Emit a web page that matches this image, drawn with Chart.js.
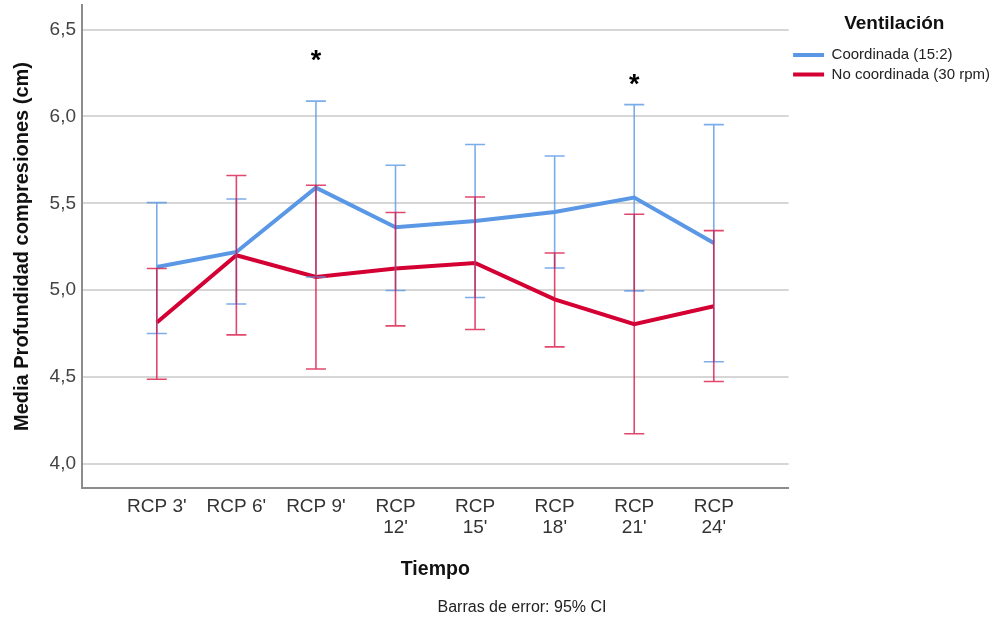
<!DOCTYPE html>
<html>
<head>
<meta charset="utf-8">
<title>Media Profundidad compresiones</title>
<script src="https://cdn.jsdelivr.net/npm/chart.js@4/dist/chart.umd.min.js"></script>
<style>
  html, body { margin: 0; padding: 0; background: #ffffff; }
  #wrap { position: relative; width: 1000px; height: 620px; }
</style>
</head>
<body>
<div id="wrap"><canvas id="chart"></canvas></div>
<script>
// Time points (minutes of CPR)
const categories = ["RCP 3'", "RCP 6'", "RCP 9'", "RCP 12'", "RCP 15'", "RCP 18'", "RCP 21'", "RCP 24'"];
const tickLabels = [["RCP 3'"], ["RCP 6'"], ["RCP 9'"], ["RCP", "12'"], ["RCP", "15'"], ["RCP", "18'"], ["RCP", "21'"], ["RCP", "24'"]];

// Coordinada (15:2): mean and 95% CI
const coordMean  = [5.134, 5.220, 5.590, 5.362, 5.398, 5.450, 5.533, 5.272];
const coordUpper = [5.504, 5.525, 6.088, 5.719, 5.838, 5.772, 6.068, 5.953];
const coordLower = [4.751, 4.921, 5.076, 4.998, 4.958, 5.128, 4.996, 4.588];

// No coordinada (30 rpm): mean and 95% CI
const noCoordMean  = [4.814, 5.201, 5.076, 5.125, 5.157, 4.947, 4.805, 4.908];
const noCoordUpper = [5.125, 5.660, 5.604, 5.447, 5.536, 5.214, 5.437, 5.343];
const noCoordLower = [4.488, 4.743, 4.547, 4.795, 4.774, 4.674, 4.174, 4.475];

// Y-axis ticks
const yTicks = [4.0, 4.5, 5.0, 5.5, 6.0, 6.5];

// Significance marks: time point index and height on the value axis
const sigIndex = [2, 6];
const sigValue = [6.35, 6.21];

const seriesNames = ["Coordinada (15:2)", "No coordinada (30 rpm)"];
const legendTitle = "Ventilación";
const yTitle = "Media Profundidad compresiones (cm)";
const xTitle = "Tiempo";
const footnote = "Barras de error: 95% CI";

const BLUE = "rgb(90,152,230)";
const RED = "rgb(212,0,52)";
const BLUE_BAR = "rgba(90,152,230,0.8)";
const RED_BAR = "rgba(216,10,60,0.75)";

const toPoints = (vals) => vals.map((v, i) => ({ x: i, y: v }));

Chart.defaults.font.family = "'Liberation Sans', Arial, Helvetica, sans-serif";
Chart.defaults.color = "#222";

// Error bars (95% CI) with caps, drawn on top of the lines
const errorBars = {
  id: 'errorBars',
  afterDatasetsDraw(chart) {
    const { ctx, scales: { x, y } } = chart;
    const sets = [
      { lo: coordLower, hi: coordUpper, color: BLUE_BAR },
      { lo: noCoordLower, hi: noCoordUpper, color: RED_BAR }
    ];
    ctx.save();
    ctx.lineWidth = 1.6;
    sets.forEach(s => {
      ctx.strokeStyle = s.color;
      s.lo.forEach((lo, i) => {
        const px = x.getPixelForValue(i);
        const pLo = y.getPixelForValue(lo);
        const pHi = y.getPixelForValue(s.hi[i]);
        ctx.beginPath();
        ctx.moveTo(px, pLo); ctx.lineTo(px, pHi);
        ctx.moveTo(px - 10, pLo); ctx.lineTo(px + 10, pLo);
        ctx.moveTo(px - 10, pHi); ctx.lineTo(px + 10, pHi);
        ctx.stroke();
      });
    });
    ctx.restore();
  }
};

// Significance asterisks and the error-bar note
const notes = {
  id: 'notes',
  afterDraw(chart) {
    const { ctx, scales: { x, y } } = chart;
    ctx.save();
    ctx.fillStyle = "#000";
    ctx.textAlign = "center";
    ctx.textBaseline = "middle";
    ctx.font = "bold 27px 'Liberation Sans', Arial, sans-serif";
    sigIndex.forEach((idx, k) => {
      ctx.fillText("*", x.getPixelForValue(idx), y.getPixelForValue(sigValue[k]) + 6);
    });
    ctx.fillStyle = "#222";
    ctx.font = "16px 'Liberation Sans', Arial, sans-serif";
    ctx.fillText(footnote, 522, 608);
    ctx.restore();
  }
};

new Chart(document.getElementById('chart'), {
  type: 'line',
  data: {
    datasets: [
      { label: seriesNames[0], data: toPoints(coordMean), borderColor: BLUE, backgroundColor: BLUE,
        borderWidth: 4, pointRadius: 0, tension: 0 },
      { label: seriesNames[1], data: toPoints(noCoordMean), borderColor: RED, backgroundColor: RED,
        borderWidth: 4, pointRadius: 0, tension: 0 }
    ]
  },
  options: {
    responsive: true,
    maintainAspectRatio: false,
    animation: false,
    layout: { padding: { top: 5, left: 0, right: 0, bottom: 0 } },
    plugins: {
      tooltip: { enabled: false },
      legend: {
        position: 'right',
        align: 'start',
        title: {
          display: true,
          text: legendTitle,
          color: '#111',
          font: { size: 19, weight: 'bold' },
          padding: { top: 9.5, bottom: 5.7 }
        },
        labels: {
          boxWidth: 31,
          boxHeight: 4,
          padding: 4.5,
          color: '#222',
          font: { size: 15 },
          generateLabels(chart) {
            return Chart.defaults.plugins.legend.labels.generateLabels(chart)
              .map(it => ({ ...it, lineWidth: 0, fillStyle: it.strokeStyle }));
          }
        }
      }
    },
    scales: {
      x: {
        type: 'linear',
        min: -0.94,
        max: 7.94,
        afterBuildTicks(scale) {
          scale.ticks = categories.map((_, i) => ({ value: i }));
        },
        afterFit(scale) {
          scale.height = 132;
          scale.paddingLeft = 0;
          scale.paddingRight = 0;
        },
        grid: { display: false, drawTicks: false, tickLength: 0 },
        border: { display: true, color: '#8c8c8c', width: 2 },
        ticks: {
          autoSkip: false,
          maxRotation: 0,
          minRotation: 0,
          padding: 8.7,
          color: '#333',
          font: { size: 19, lineHeight: 1.08 },
          callback: (v) => tickLabels[v]
        },
        title: {
          display: true,
          text: xTitle,
          color: '#111',
          font: { size: 19.5, weight: 'bold', lineHeight: 1.2 },
          padding: { top: 0, bottom: 38.3 }
        }
      },
      y: {
        min: 3.862,
        max: 6.641,
        afterBuildTicks(scale) {
          scale.ticks = yTicks.map(v => ({ value: v }));
        },
        afterFit(scale) {
          scale.width = 82;
          scale.paddingTop = 0;
          scale.paddingBottom = 0;
        },
        grid: { color: '#d6d6d6', lineWidth: 2, drawTicks: false, tickLength: 0 },
        border: { display: true, color: '#8c8c8c', width: 2 },
        ticks: {
          padding: 6,
          color: '#444',
          font: { size: 19 },
          callback: (v) => v.toFixed(1).replace('.', ',')
        },
        title: {
          display: true,
          text: yTitle,
          color: '#111',
          font: { size: 20, weight: 'bold', lineHeight: 1.2 },
          padding: { top: 10, bottom: 0 }
        }
      }
    }
  },
  plugins: [errorBars, notes]
});
</script>
</body>
</html>
